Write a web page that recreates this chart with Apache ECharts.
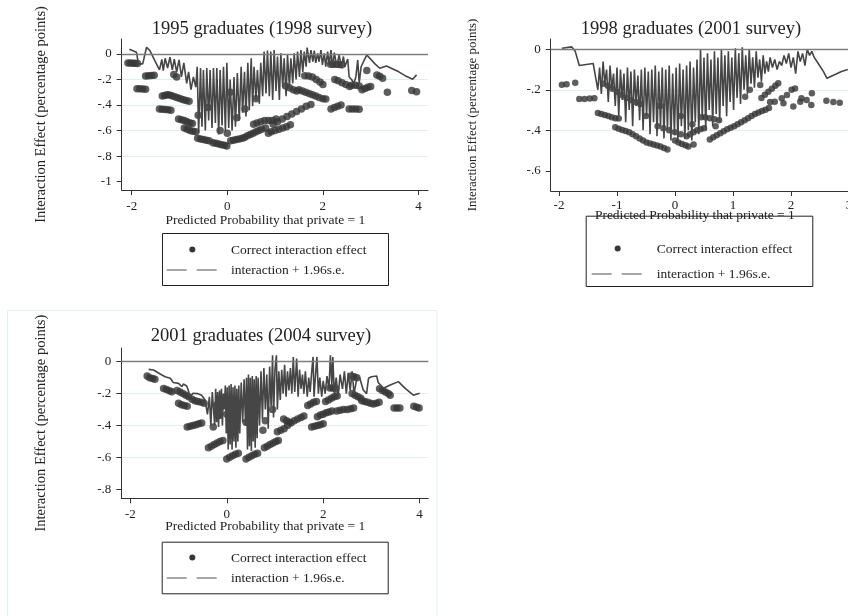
<!DOCTYPE html>
<html>
<head>
<meta charset="utf-8">
<script src="https://cdn.jsdelivr.net/npm/echarts@6/dist/echarts.min.js"></script>
<style>
  html, body { margin: 0; padding: 0; background: #fff; }
  #main { width: 848px; height: 616px; }
</style>
</head>
<body>
<div id="main"></div>
<script>
// 文字
const titles = ['1995 graduates (1998 survey)', '1998 graduates (2001 survey)', '2001 graduates (2004 survey)'];
const yName = 'Interaction Effect (percentage points)';
const xName = 'Predicted Probability that private = 1';
const dotName = 'Correct interaction effect';
const lineName = 'interaction + 1.96s.e.';

// 刻度
const xTicks1 = [-2, 0, 2, 4];
const yTicks1 = [-1, -0.8, -0.6, -0.4, -0.2, 0];
const xTicks2 = [-2, -1, 0, 1, 2, 3];
const yTicks2 = [-0.6, -0.4, -0.2, 0];
const xTicks3 = [-2, 0, 2, 4];
const yTicks3 = [-0.8, -0.6, -0.4, -0.2, 0];

// 1995 graduates: correct interaction effect
const dots1 = [
  [-2.08,-0.07],[-2.03,-0.07],[-1.98,-0.072],[-1.93,-0.073],[-1.88,-0.075],
  [-1.71,-0.172],[-1.65,-0.17],[-1.59,-0.168],[-1.53,-0.167],
  [-1.89,-0.272],[-1.83,-0.273],[-1.77,-0.274],[-1.71,-0.276],
  [-1.36,-0.33],[-1.31,-0.325],[-1.26,-0.32],[-1.21,-0.322],[-1.16,-0.328],[-1.1,-0.335],[-1.04,-0.342],[-0.98,-0.35],[-0.92,-0.358],[-0.86,-0.365],[-0.8,-0.37],
  [-1.42,-0.43],[-1.36,-0.432],[-1.3,-0.435],[-1.24,-0.437],[-1.18,-0.44],
  [-1.02,-0.51],[-0.96,-0.515],[-0.9,-0.52],[-0.84,-0.53],[-0.78,-0.54],[-0.73,-0.545],
  [-0.9,-0.58],[-0.84,-0.59],[-0.78,-0.6],[-0.72,-0.605],[-0.66,-0.61],
  [-0.62,-0.66],[-0.56,-0.665],[-0.5,-0.67],[-0.44,-0.675],[-0.38,-0.68],[-0.3,-0.695],[-0.24,-0.7],[-0.18,-0.705],[-0.12,-0.71],[-0.06,-0.715],[-0.01,-0.72],
  [0.07,-0.68],[0.13,-0.675],[0.19,-0.67],[0.25,-0.665],[0.31,-0.66],
  [0.36,-0.655],[0.42,-0.64],[0.48,-0.63],[0.54,-0.62],[0.6,-0.61],[0.66,-0.6],[0.72,-0.59],[0.8,-0.58],
  [0.55,-0.55],[0.62,-0.54],[0.7,-0.53],[0.78,-0.52],[0.86,-0.52],[0.94,-0.52],[1.02,-0.51],
  [0.86,-0.62],[0.92,-0.61],[1.0,-0.6],[1.08,-0.59],[1.16,-0.58],[1.24,-0.57],[1.32,-0.555],
  [0.96,-0.55],[1.05,-0.53],[1.15,-0.51],[1.25,-0.49],[1.35,-0.47],[1.45,-0.45],[1.55,-0.43],[1.65,-0.41],[1.75,-0.395],
  [2.17,-0.43],[2.24,-0.42],[2.31,-0.41],[2.38,-0.4],
  [2.55,-0.43],[2.62,-0.43],[2.69,-0.43],[2.76,-0.432],
  [1.62,-0.17],[1.7,-0.172],[1.78,-0.18],[1.86,-0.2],[1.94,-0.22],[2.0,-0.24],
  [2.16,-0.08],[2.22,-0.08],[2.28,-0.08],[2.34,-0.082],[2.4,-0.085],
  [2.25,-0.2],[2.32,-0.21],[2.4,-0.225],[2.48,-0.24],[2.56,-0.255],
  [2.6,-0.245],[2.68,-0.245],[2.76,-0.25],
  [2.82,-0.28],[2.88,-0.27],[2.94,-0.26],[3.0,-0.255],
  [2.92,-0.13],[3.13,-0.165],[3.19,-0.175],[3.25,-0.19],[3.35,-0.3],[3.86,-0.287],[3.96,-0.295],
  [1.5,-0.28],[1.57,-0.29],[1.64,-0.3],[1.71,-0.31],[1.78,-0.32],[1.85,-0.33],[1.92,-0.34],[2.0,-0.35],[2.06,-0.352],
  [1.22,-0.25],[1.3,-0.265],[1.38,-0.28],[1.45,-0.29],
  [-1.12,-0.16],[-1.06,-0.18],[-0.61,-0.48],[-0.15,-0.6],[0.06,-0.3],[0.37,-0.43],[0.0,-0.62],[-0.4,-0.42],[0.2,-0.5],[0.6,-0.35]
];
// 1995 graduates: interaction + 1.96 s.e.
const line1 = [
  [-2.05,0.037],[-1.9,0.013],[-1.86,-0.078],[-1.77,-0.078],[-1.69,0.052],[-1.62,0.026],[-1.53,-0.042],[-1.42,-0.125],
  [-1.37,-0.042],[-1.34,-0.13],[-1.3,-0.034],[-1.25,-0.11],[-1.2,-0.026],[-1.15,-0.125],[-1.11,-0.04],[-1.06,-0.14],
  [-1.01,-0.047],[-0.96,-0.18],[-0.91,-0.07],[-0.85,-0.23],[-0.81,-0.14],[-0.76,-0.28],[-0.71,-0.18],[-0.66,-0.26],
  [-0.63,-0.1],[-0.6,-0.62],[-0.56,-0.11],[-0.53,-0.57],[-0.5,-0.125],[-0.46,-0.6],[-0.43,-0.11],[-0.39,-0.52],
  [-0.36,-0.125],[-0.32,-0.58],[-0.29,-0.11],[-0.25,-0.54],[-0.22,-0.11],[-0.18,-0.63],[-0.15,-0.125],[-0.11,-0.56],
  [-0.08,-0.1],[-0.04,-0.61],[-0.01,-0.07],[0.03,-0.58],[0.06,-0.2],[0.1,-0.6],[0.14,-0.18],[0.17,-0.57],
  [0.21,-0.15],[0.25,-0.52],[0.29,-0.1],[0.32,-0.46],[0.36,-0.14],[0.39,-0.49],[0.43,-0.07],[0.46,-0.44],
  [0.5,-0.034],[0.53,-0.41],[0.56,-0.1],[0.6,-0.36],[0.63,-0.125],[0.67,-0.39],[0.7,-0.07],[0.74,-0.33],
  [0.77,0.018],[0.81,-0.31],[0.84,0.026],[0.88,-0.33],[0.91,0.018],[0.95,-0.36],[0.98,0.03],[1.02,-0.29],
  [1.05,-0.02],[1.09,-0.36],[1.12,0.005],[1.16,-0.26],[1.19,-0.034],[1.23,-0.33],[1.26,-0.008],[1.3,-0.26],
  [1.33,-0.034],[1.37,-0.23],[1.4,0.005],[1.44,-0.2],[1.47,0.018],[1.51,-0.18],[1.54,0.03],[1.58,-0.14],
  [1.61,0.018],[1.65,-0.1],[1.67,0.05],[1.72,-0.07],[1.75,0.03],[1.79,-0.06],[1.82,0.026],[1.85,-0.07],
  [1.89,0.005],[1.92,-0.06],[1.96,0.03],[1.99,-0.086],[2.03,0.005],[2.06,-0.1],[2.1,0.018],[2.13,-0.086],
  [2.17,0.03],[2.2,-0.11],[2.24,0.01],[2.29,-0.1],[2.34,-0.008],[2.39,-0.11],[2.43,-0.02],[2.46,-0.1],
  [2.52,-0.04],[2.55,-0.18],[2.6,-0.2],[2.65,-0.23],[2.69,-0.18],[2.73,-0.047],[2.76,-0.23],[2.8,-0.1],
  [2.85,-0.06],[2.92,-0.008],[3.09,-0.078],[3.19,-0.112],[3.33,-0.094],[3.58,-0.138],[3.72,-0.17],[3.88,-0.198],[3.96,-0.164]
];

// 1998 graduates
const dots2 = [
  [-1.95,-0.175],[-1.87,-0.172],[-1.72,-0.165],
  [-1.65,-0.245],[-1.56,-0.245],[-1.47,-0.243],[-1.39,-0.242],
  [-1.33,-0.315],[-1.27,-0.32],[-1.21,-0.325],[-1.15,-0.33],[-1.09,-0.335],[-1.03,-0.34],[-0.97,-0.342],
  [-1.03,-0.385],[-0.97,-0.392],[-0.91,-0.398],[-0.85,-0.404],[-0.79,-0.41],[-0.73,-0.42],[-0.67,-0.43],[-0.61,-0.44],
  [-0.55,-0.45],[-0.49,-0.46],[-0.43,-0.465],[-0.37,-0.47],[-0.31,-0.475],[-0.25,-0.48],[-0.19,-0.488],[-0.13,-0.495],
  [0.0,-0.45],[0.06,-0.46],[0.12,-0.468],[0.18,-0.474],[0.23,-0.48],[0.32,-0.47],
  [0.2,-0.43],[0.26,-0.42],[0.32,-0.41],[0.38,-0.4],[0.44,-0.395],[0.5,-0.39],
  [0.6,-0.445],[0.66,-0.435],[0.72,-0.425],[0.78,-0.415],[0.84,-0.405],[0.9,-0.395],[0.96,-0.388],[1.02,-0.38],
  [1.08,-0.37],[1.14,-0.36],[1.2,-0.35],[1.26,-0.34],[1.32,-0.33],[1.38,-0.32],[1.44,-0.312],[1.5,-0.305],[1.56,-0.298],[1.62,-0.29],
  [0.45,-0.335],[0.52,-0.335],[0.6,-0.34],[0.68,-0.345],[0.76,-0.35],[0.7,-0.38],
  [1.21,-0.234],[1.29,-0.2],[1.47,-0.176],
  [1.49,-0.24],[1.55,-0.225],[1.61,-0.21],[1.67,-0.195],[1.73,-0.18],[1.78,-0.168],
  [1.84,-0.242],[1.93,-0.226],[2.01,-0.2],[2.07,-0.193],[1.72,-0.259],[1.87,-0.267],[2.04,-0.283],[2.16,-0.259],
  [2.18,-0.242],[2.27,-0.25],[2.36,-0.217],[2.35,-0.275],[2.61,-0.254],[2.73,-0.26],[2.84,-0.264],[1.64,-0.26],
  [-1.24,-0.17],[-1.16,-0.18],[-1.08,-0.195],[-1.0,-0.21],[-0.92,-0.225],[-0.84,-0.24],[-0.76,-0.25],[-0.68,-0.26],[-0.6,-0.27],
  [-0.5,-0.33],[-0.3,-0.38],[-0.2,-0.39],[-0.1,-0.4],[0.0,-0.41],[0.1,-0.42],[-0.26,-0.28],[0.1,-0.33],[0.3,-0.37]
];
const line2 = [
  [-1.95,0.005],[-1.78,0.012],[-1.72,-0.01],[-1.65,-0.08],[-1.41,-0.07],[-1.38,-0.12],[-1.33,-0.2],
  [-1.3,-0.09],[-1.27,-0.22],[-1.24,-0.06],[-1.21,-0.17],[-1.18,-0.1],[-1.15,-0.26],[-1.12,-0.08],[-1.09,-0.2],
  [-1.06,-0.12],[-1.03,-0.28],[-1.0,-0.09],[-0.97,-0.33],[-0.94,-0.1],[-0.91,-0.25],[-0.88,-0.12],[-0.85,-0.36],
  [-0.82,-0.09],[-0.79,-0.3],[-0.76,-0.11],[-0.73,-0.38],[-0.7,-0.1],[-0.67,-0.28],[-0.64,-0.13],[-0.61,-0.35],
  [-0.58,-0.1],[-0.55,-0.4],[-0.52,-0.09],[-0.49,-0.33],[-0.46,-0.11],[-0.43,-0.42],[-0.4,-0.1],[-0.37,-0.36],
  [-0.34,-0.08],[-0.31,-0.43],[-0.28,-0.11],[-0.25,-0.38],[-0.22,-0.09],[-0.19,-0.44],[-0.16,-0.1],[-0.13,-0.4],
  [-0.1,-0.08],[-0.07,-0.45],[-0.04,-0.12],[-0.01,-0.42],[0.02,-0.09],[0.05,-0.46],[0.08,-0.07],[0.11,-0.38],
  [0.14,-0.1],[0.17,-0.44],[0.2,-0.08],[0.23,-0.4],[0.26,-0.06],[0.29,-0.45],[0.32,-0.09],[0.35,-0.36],
  [0.38,-0.05],[0.41,-0.42],[0.44,0.0],[0.47,-0.34],[0.5,-0.04],[0.53,-0.4],[0.56,-0.02],[0.59,-0.3],
  [0.62,-0.05],[0.65,-0.38],[0.68,-0.01],[0.71,-0.32],[0.74,-0.04],[0.77,-0.36],[0.8,0.0],[0.83,-0.28],
  [0.86,-0.03],[0.89,-0.33],[0.92,-0.01],[0.95,-0.26],[0.98,-0.04],[1.01,-0.3],[1.04,0.005],[1.07,-0.24],
  [1.1,-0.02],[1.13,-0.27],[1.16,0.01],[1.19,-0.2],[1.22,-0.03],[1.25,-0.22],[1.28,0.0],[1.31,-0.17],
  [1.34,-0.04],[1.37,-0.19],[1.4,-0.01],[1.43,-0.14],[1.46,-0.05],[1.49,-0.16],[1.52,-0.03],[1.55,-0.12],
  [1.58,-0.06],[1.61,-0.11],[1.64,-0.04],[1.68,-0.09],[1.72,-0.05],[1.76,-0.1],[1.8,-0.06],[1.84,-0.08],
  [1.88,-0.03],[1.92,-0.07],[1.96,-0.02],[2.0,-0.09],[2.04,-0.04],[2.08,-0.12],[2.12,-0.01],[2.16,-0.06],
  [2.2,-0.02],[2.24,-0.08],[2.28,0.0],[2.32,-0.03],[2.36,-0.01],[2.4,-0.04],[2.47,-0.07],[2.56,-0.11],
  [2.62,-0.143],[2.87,-0.11],[2.98,-0.1]
];

// 2001 graduates
const dots3 = [
  [-1.65,-0.09],[-1.6,-0.1],[-1.54,-0.105],[-1.49,-0.11],
  [-1.31,-0.168],[-1.25,-0.175],[-1.19,-0.182],[-1.14,-0.188],
  [-1.03,-0.18],[-0.97,-0.19],[-0.91,-0.2],[-0.85,-0.21],[-0.79,-0.22],
  [-0.72,-0.235],[-0.66,-0.245],[-0.6,-0.25],[-0.53,-0.255],[-0.47,-0.26],
  [-1.0,-0.26],[-0.94,-0.27],[-0.88,-0.275],[-0.82,-0.28],
  [-0.82,-0.41],[-0.76,-0.405],[-0.7,-0.4],[-0.64,-0.395],[-0.58,-0.39],[-0.52,-0.385],
  [-0.38,-0.54],[-0.32,-0.53],[-0.26,-0.52],[-0.2,-0.51],[-0.14,-0.5],[-0.08,-0.495],
  [0.0,-0.61],[0.06,-0.6],[0.12,-0.59],[0.18,-0.58],[0.24,-0.575],
  [0.4,-0.61],[0.46,-0.6],[0.52,-0.59],[0.58,-0.58],[0.64,-0.575],
  [0.78,-0.54],[0.84,-0.53],[0.9,-0.52],[0.96,-0.51],[1.02,-0.5],[1.07,-0.495],
  [1.05,-0.44],[1.12,-0.43],[1.19,-0.42],[1.26,-0.4],[1.33,-0.385],[1.4,-0.37],[1.47,-0.36],[1.54,-0.35],[1.6,-0.34],
  [1.18,-0.36],[1.24,-0.37],[1.3,-0.38],
  [1.76,-0.41],[1.82,-0.405],[1.88,-0.4],[1.94,-0.395],[2.0,-0.39],
  [1.88,-0.345],[1.94,-0.335],[2.0,-0.33],[2.06,-0.32],[2.12,-0.315],[2.18,-0.31],
  [2.28,-0.31],[2.35,-0.305],[2.42,-0.3],[2.5,-0.3],[2.57,-0.295],[2.63,-0.29],
  [2.05,-0.25],[2.11,-0.24],[2.17,-0.23],[2.23,-0.22],[2.29,-0.215],
  [2.14,-0.165],[2.2,-0.165],[2.26,-0.17],
  [2.58,-0.09],[2.64,-0.095],[2.7,-0.1],
  [2.6,-0.2],[2.66,-0.21],[2.72,-0.22],[2.78,-0.23],
  [2.8,-0.245],[2.86,-0.25],[2.92,-0.255],[2.98,-0.26],[3.04,-0.265],[3.1,-0.26],[3.16,-0.255],
  [3.17,-0.17],[3.23,-0.18],[3.29,-0.19],[3.35,-0.2],[3.39,-0.21],
  [3.47,-0.29],[3.53,-0.29],[3.59,-0.29],
  [3.88,-0.28],[3.94,-0.285],[3.99,-0.29],
  [1.68,-0.275],[1.74,-0.265],[1.8,-0.255],[1.86,-0.25],
  [-0.28,-0.41],[-0.2,-0.27],[0.0,-0.33],[0.1,-0.4],[0.2,-0.3],[0.35,-0.25],[0.4,-0.38],[0.5,-0.32],[0.6,-0.28],[0.75,-0.43],[0.8,-0.37],[0.95,-0.3]
];
const line3 = [
  [-1.62,-0.048],[-1.52,-0.052],[-1.38,-0.077],[-1.28,-0.094],[-1.17,-0.104],[-1.11,-0.13],[-1.0,-0.136],[-0.93,-0.157],
  [-0.9,-0.14],[-0.83,-0.152],[-0.8,-0.177],[-0.76,-0.22],[-0.7,-0.198],[-0.61,-0.2],[-0.52,-0.21],[-0.48,-0.22],
  [-0.45,-0.24],[-0.4,-0.33],[-0.36,-0.22],[-0.33,-0.4],[-0.3,-0.19],
  [-0.27,-0.18],[-0.25,-0.4],[-0.23,-0.17],[-0.21,-0.38],[-0.19,-0.19],[-0.17,-0.41],[-0.15,-0.18],[-0.13,-0.36],
  [-0.11,-0.17],[-0.09,-0.4],[-0.07,-0.2],[-0.05,-0.3],[-0.03,-0.15],[-0.01,-0.45],[0.01,-0.16],[0.03,-0.55],
  [0.05,-0.15],[0.07,-0.52],[0.09,-0.14],[0.11,-0.55],[0.13,-0.16],[0.15,-0.5],[0.17,-0.15],[0.19,-0.54],
  [0.21,-0.17],[0.23,-0.5],[0.25,-0.15],[0.27,-0.45],[0.3,-0.13],[0.33,-0.38],[0.36,-0.11],[0.39,-0.4],
  [0.41,-0.1],[0.43,-0.55],[0.45,-0.08],[0.47,-0.53],[0.49,-0.1],[0.51,-0.56],[0.53,-0.09],[0.55,-0.5],
  [0.57,-0.11],[0.59,-0.54],[0.61,-0.09],[0.63,-0.48],[0.65,-0.1],[0.68,-0.4],
  [0.71,-0.06],[0.74,-0.36],[0.77,-0.04],[0.8,-0.3],[0.83,-0.08],[0.86,-0.42],[0.89,-0.03],[0.92,-0.28],
  [0.95,0.04],[0.97,-0.35],[1.0,-0.05],[1.03,0.04],[1.05,-0.3],[1.08,-0.06],[1.11,-0.24],
  [1.14,-0.05],[1.17,-0.2],[1.2,-0.02],[1.23,-0.22],[1.26,-0.06],[1.29,-0.18],[1.32,-0.04],[1.35,-0.2],
  [1.38,0.03],[1.41,-0.19],[1.45,0.02],[1.48,-0.22],[1.51,-0.05],[1.54,-0.17],[1.57,-0.08],[1.6,-0.2],[1.63,-0.06],
  [1.67,-0.22],[1.7,-0.1],[1.73,-0.19],[1.76,-0.07],[1.79,0.03],[1.81,-0.22],[1.84,-0.09],[1.87,0.03],
  [1.9,-0.2],[1.93,-0.1],[1.97,-0.22],[2.0,-0.12],[2.04,-0.2],[2.08,-0.09],[2.12,-0.17],[2.15,0.04],
  [2.18,-0.15],[2.2,0.03],[2.23,-0.2],[2.27,-0.1],[2.31,-0.22],[2.35,-0.08],[2.4,-0.17],[2.44,-0.06],
  [2.48,-0.2],[2.52,-0.07],[2.56,-0.18],[2.6,-0.06],[2.64,-0.2],[2.7,-0.1],[2.76,-0.104],
  [2.83,-0.177],[2.9,-0.2],[2.94,-0.104],[3.0,-0.094],[3.11,-0.09],[3.14,-0.13],[3.25,-0.167],[3.39,-0.146],
  [3.56,-0.125],[3.7,-0.167],[3.87,-0.21],[4.0,-0.198]
];

const FONT = 'Liberation Serif';
const INK = '#222';

// 版面
const layout = [
  { grid: { left: 121.7, top: 39, width: 306.3, height: 151 }, x: [-2.21, 4.2], y: [-1.065, 0.117],
    xTicks: xTicks1, yTicks: yTicks1, titleX: 262, titleY: 20, nameSize: 14.5, nameGap: 73, xGap: 23, xShift: 19,
    labelMargin: 10, dotSize: 7.5,
    legend: { x: 162, y: 233, w: 226, h: 52, dotX: 192.3, dotY: 249.5, lineY: 270, lineX: 166.7, textX: 231 } },
  { grid: { left: 550.7, top: 39, width: 298.3, height: 152 }, x: [-2.143, 3.0], y: [-0.7, 0.051],
    xTicks: xTicks2, yTicks: yTicks2, titleX: 691, titleY: 20, nameSize: 12.9, nameGap: 72, xGap: 17, xShift: 10,
    labelMargin: 8, dotSize: 6.5,
    legend: { x: 585.7, y: 215.7, w: 226.6, h: 70.3, dotX: 617.7, dotY: 248.5, lineY: 274, lineX: 591.7, textX: 656.7 } },
  { grid: { left: 121.3, top: 348, width: 307, height: 150.3 }, x: [-2.187, 4.18], y: [-0.857, 0.086],
    xTicks: xTicks3, yTicks: yTicks3, titleX: 261, titleY: 327, nameSize: 14.5, nameGap: 73, xGap: 21, xShift: 19,
    labelMargin: 10, dotSize: 7.5,
    legend: { x: 161.7, y: 541.7, w: 226, h: 51.6, dotX: 192.3, dotY: 557.5, lineY: 578, lineX: 166.7, textX: 231 } }
];
const dotSets = [dots1, dots2, dots3];
const lineSets = [line1, line2, line3];

const fmt = v => {
  const r = Math.round(v * 10) / 10;
  if (Number.isInteger(r)) return String(r);
  return String(r).replace('0.', '.');
};

const grids = [], xAxes = [], yAxes = [], series = [], titleList = [], graphics = [];

// 第三幅图外框
graphics.push({
  type: 'rect', silent: true, z: 0,
  shape: { x: 7.5, y: 310.5, width: 429.5, height: 320 },
  style: { fill: null, stroke: '#e6eef1', lineWidth: 1 }
});

layout.forEach((p, i) => {
  grids.push(Object.assign({ containLabel: false, outerBoundsMode: 'none' }, p.grid));
  titleList.push({
    text: titles[i], left: p.titleX, top: p.titleY, textAlign: 'center', padding: 0,
    textStyle: { fontFamily: FONT, fontSize: 18.5, fontWeight: 'normal', color: INK }
  });
  xAxes.push({
    type: 'value', gridIndex: i, min: p.x[0], max: p.x[1],
    name: xName, nameLocation: 'middle', nameGap: p.xGap, nameMoveOverlap: false,
    nameTextStyle: { fontFamily: FONT, fontSize: 13.5, color: INK, padding: [0, p.xShift, 0, 0] },
    axisLine: { show: true, onZero: false, lineStyle: { color: '#333', width: 1 } },
    axisTick: { show: true, length: 5, customValues: p.xTicks, lineStyle: { color: '#333' } },
    axisLabel: { customValues: p.xTicks, formatter: fmt, margin: p.labelMargin, alignMaxLabel: 'center', hideOverlap: false,
      fontFamily: FONT, fontSize: 13, color: INK },
    splitLine: { show: false }
  });
  yAxes.push({
    type: 'value', gridIndex: i, min: p.y[0], max: p.y[1],
    name: yName, nameLocation: 'middle', nameRotate: 90, nameGap: p.nameGap, nameMoveOverlap: false,
    nameTextStyle: { fontFamily: FONT, fontSize: p.nameSize, color: INK },
    axisLine: { show: true, onZero: false, lineStyle: { color: '#333', width: 1 } },
    axisTick: { show: true, length: 5, customValues: p.yTicks, lineStyle: { color: '#333' } },
    axisLabel: { customValues: p.yTicks, formatter: fmt, margin: 10, fontFamily: FONT, fontSize: 13, color: INK },
    splitLine: { show: true, showMinLine: false, showMaxLine: false, lineStyle: { color: '#e3edf0', width: 1 } }
  });
  series.push({
    name: dotName, type: 'scatter', xAxisIndex: i, yAxisIndex: i,
    data: dotSets[i], symbol: 'circle', symbolSize: p.dotSize,
    itemStyle: { color: '#363636' }, z: 3
  });
  series.push({
    name: lineName, type: 'line', xAxisIndex: i, yAxisIndex: i,
    data: lineSets[i], symbol: 'none', showSymbol: false,
    lineStyle: { color: '#464646', width: 1.6 }, z: 4,
    markLine: {
      silent: true, symbol: ['none', 'none'], label: { show: false },
      lineStyle: { color: '#7d7d7d', width: 1.3, type: 'solid' },
      data: [{ yAxis: 0 }]
    }
  });

  // 图例
  const L = p.legend;
  graphics.push(
    { type: 'rect', silent: true, shape: { x: L.x + 0.5, y: L.y + 0.5, width: L.w, height: L.h },
      style: { fill: '#fff', stroke: '#222', lineWidth: 1 } },
    { type: 'circle', silent: true, shape: { cx: L.dotX, cy: L.dotY, r: 3 }, style: { fill: '#363636' } },
    { type: 'line', silent: true, shape: { x1: L.lineX, y1: L.lineY, x2: L.lineX + 20, y2: L.lineY },
      style: { stroke: '#4f4f4f', lineWidth: 1 } },
    { type: 'line', silent: true, shape: { x1: L.lineX + 30, y1: L.lineY, x2: L.lineX + 50, y2: L.lineY },
      style: { stroke: '#4f4f4f', lineWidth: 1 } },
    { type: 'text', silent: true,
      style: { text: dotName, x: L.textX, y: L.dotY + 1, fill: INK, font: '13.5px "' + FONT + '"', verticalAlign: 'middle' } },
    { type: 'text', silent: true,
      style: { text: lineName, x: L.textX, y: L.lineY, fill: INK, font: '13.5px "' + FONT + '"', verticalAlign: 'middle' } }
  );
});

var myChart = echarts.init(document.getElementById('main'));
myChart.setOption({
  animation: false,
  backgroundColor: '#fff',
  textStyle: { fontFamily: FONT },
  title: titleList,
  grid: grids,
  xAxis: xAxes,
  yAxis: yAxes,
  series: series,
  graphic: graphics
});
</script>
</body>
</html>
